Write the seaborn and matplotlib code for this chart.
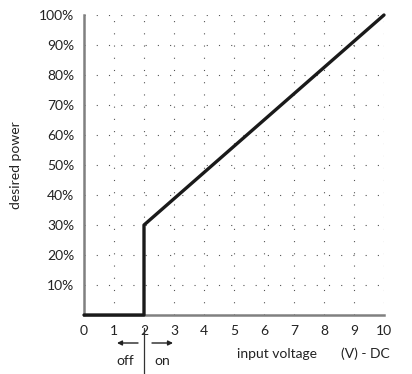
import matplotlib
matplotlib.use("Agg")
import matplotlib.pyplot as plt
import seaborn as sns
import pandas as pd

# curve: off below 2 V, jumps to 30 %, then linear up to 100 % at 10 V
voltage = [0, 2, 2, 10]
power = [0, 0, 30, 100]
x_ticks = [0, 1, 2, 3, 4, 5, 6, 7, 8, 9, 10]
y_ticks = [10, 20, 30, 40, 50, 60, 70, 80, 90, 100]
y_labels = [f"{v}%" for v in y_ticks]

sns.set_style("white")
plt.rcParams['font.family'] = ['Lato', 'DejaVu Sans']

df = pd.DataFrame({'voltage': voltage, 'power': power})

fig = plt.figure(figsize=(4.12, 3.74), dpi=100)
ax = fig.add_axes([84 / 412, 59 / 374, 300 / 412, 300 / 374])

# estimator=None so the two points at 2 V are kept (vertical step)
sns.lineplot(data=df, x='voltage', y='power', sort=False, estimator=None,
             color='#1a1a1a', linewidth=2.4, ax=ax, zorder=5, clip_on=False)

ax.set_xlim(0, 10)
ax.set_ylim(0, 100)
ax.set_xticks(x_ticks)
ax.set_yticks([0] + y_ticks)
ax.set_yticklabels([''] + y_labels)

# dotted grid
for v in x_ticks[1:]:
    ax.axvline(v, color='#555555', linestyle=(0, (1, 10)), linewidth=0.8, zorder=1)
for v in y_ticks:
    ax.axhline(v, color='#555555', linestyle=(0, (1, 10)), linewidth=0.8, zorder=1)

for s in ['top', 'right']:
    ax.spines[s].set_visible(False)
for s in ['left', 'bottom']:
    ax.spines[s].set_color('#808080')
    ax.spines[s].set_linewidth(1.8)

ax.tick_params(axis='both', direction='out', length=5, width=1.2, color='#808080',
               labelsize=10, labelcolor='#222222', pad=2)
ax.set_xlabel('')
ax.set_ylabel('desired power', fontsize=10, color='#222222', labelpad=12)

# annotations below the axis
fig.text(277 / 412, 1 - 354 / 374, 'input voltage', ha='center', va='center',
         fontsize=10, color='#222222')
fig.text(365 / 412, 1 - 354 / 374, '(V) - DC', ha='center', va='center',
         fontsize=10, color='#222222')
fig.text(125 / 412, 1 - 361 / 374, 'off', ha='center', va='center',
         fontsize=10, color='#222222')
fig.text(162 / 412, 1 - 361 / 374, 'on', ha='center', va='center',
         fontsize=10, color='#222222')
fig.add_artist(plt.Line2D([144 / 412, 144 / 412], [1 - 328 / 374, 0],
                          color='#333333', linewidth=0.9))
ax.annotate('', xy=(117 / 412, 1 - 343 / 374), xytext=(138 / 412, 1 - 343 / 374),
            xycoords='figure fraction',
            arrowprops=dict(arrowstyle='-|>', color='#222222', lw=1.0,
                            mutation_scale=7, shrinkA=0, shrinkB=0))
ax.annotate('', xy=(173 / 412, 1 - 343 / 374), xytext=(152 / 412, 1 - 343 / 374),
            xycoords='figure fraction',
            arrowprops=dict(arrowstyle='-|>', color='#222222', lw=1.0,
                            mutation_scale=7, shrinkA=0, shrinkB=0))

fig.savefig('out.png', dpi=100)
